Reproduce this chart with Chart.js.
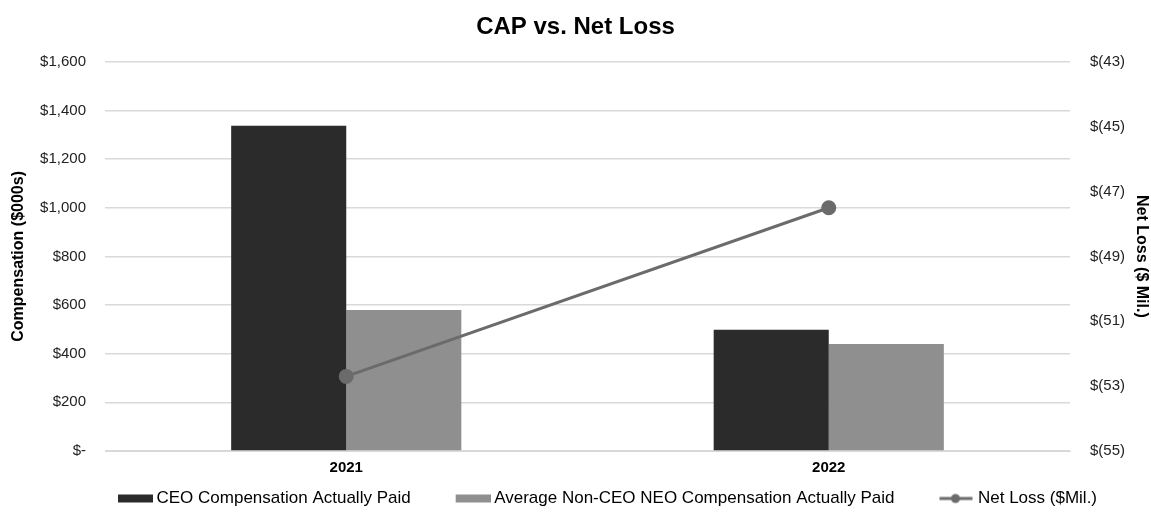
<!DOCTYPE html>
<html>
<head>
    <title>CAP vs. Net Loss</title>
    <script src="https://cdn.jsdelivr.net/npm/chart.js"></script>
    <style>
        html, body { margin: 0; padding: 0; background: white; }
        #wrap { width: 1151px; height: 513px; position: relative; }
    </style>
</head>
<body>
    <div id="wrap"><canvas id="myChart"></canvas></div>
    <script>
        // values
        const years = ['2021', '2022'];
        const ceoCap = [1337, 498];
        const avgNeoCap = [580, 440];
        const netLoss = [-52.7, -47.5];

        const leftTicks = [0, 200, 400, 600, 800, 1000, 1200, 1400, 1600];

        const dark = '#2b2b2b';
        const grey = '#8f8f8f';
        const lineGrey = '#6b6b6b';
        const fontFamily = '"Liberation Sans", Arial, sans-serif';

        // legend icons: graphic sits at the right end so the gap between items is inside the icon
        const iconSlot = 70;
        function icon(kind, color) {
            const c = document.createElement('canvas');
            c.width = iconSlot + 10; c.height = 12;
            const g = c.getContext('2d');
            const x0 = c.width - 35;
            g.fillStyle = color;
            if (kind === 'box') {
                g.fillRect(x0, 2, 35, 8);
            } else {
                g.strokeStyle = color;
                g.lineWidth = 3;
                g.beginPath(); g.moveTo(x0, 6); g.lineTo(x0 + 33, 6); g.stroke();
                g.beginPath(); g.arc(x0 + 16, 6, 4.5, 0, Math.PI * 2); g.fill();
            }
            return c;
        }
        const icons = [icon('line', lineGrey), icon('box', dark), icon('box', grey)];

        const legendShift = {
            id: 'legendShift',
            afterLayout(chart) {
                chart.legend.left += 12;
                chart.legend.right += 12;
            }
        };

        const ctx = document.getElementById('myChart').getContext('2d');
        new Chart(ctx, {
            data: {
                labels: years,
                datasets: [
                    {
                        type: 'line',
                        label: 'Net Loss ($Mil.)',
                        data: netLoss,
                        yAxisID: 'y1',
                        borderColor: lineGrey,
                        backgroundColor: lineGrey,
                        borderWidth: 3,
                        pointRadius: 6,
                        pointHoverRadius: 6,
                        tension: 0,
                        order: 0
                    },
                    {
                        type: 'bar',
                        label: 'CEO Compensation Actually Paid',
                        data: ceoCap,
                        yAxisID: 'y',
                        backgroundColor: dark,
                        categoryPercentage: 0.477,
                        barPercentage: 1,
                        order: 1
                    },
                    {
                        type: 'bar',
                        label: 'Average Non-CEO NEO Compensation Actually Paid',
                        data: avgNeoCap,
                        yAxisID: 'y',
                        backgroundColor: grey,
                        categoryPercentage: 0.477,
                        barPercentage: 1,
                        order: 1
                    }
                ]
            },
            plugins: [legendShift],
            options: {
                responsive: true,
                maintainAspectRatio: false,
                animation: false,
                layout: { padding: { left: 0, right: 0, top: 0, bottom: -4 } },
                plugins: {
                    title: {
                        display: true,
                        text: 'CAP vs. Net Loss',
                        color: '#000',
                        font: { family: fontFamily, size: 24, weight: 'bold' },
                        padding: { top: 13, bottom: 20 }
                    },
                    legend: {
                        position: 'bottom',
                        labels: {
                            usePointStyle: true,
                            pointStyleWidth: iconSlot,
                            color: '#000',
                            font: { family: fontFamily, size: 17 },
                            padding: 5,
                            sort: (a, b) => [1, 2, 0].indexOf(a.datasetIndex) - [1, 2, 0].indexOf(b.datasetIndex),
                            generateLabels: (chart) =>
                                Chart.defaults.plugins.legend.labels.generateLabels(chart).map(l => ({
                                    ...l,
                                    pointStyle: icons[l.datasetIndex]
                                }))
                        }
                    },
                    tooltip: { enabled: false }
                },
                scales: {
                    x: {
                        grid: { display: false, drawTicks: false },
                        border: { color: '#d9d9d9' },
                        ticks: {
                            color: '#000',
                            font: { family: fontFamily, size: 15, weight: 'bold' },
                            padding: 8
                        }
                    },
                    y: {
                        position: 'left',
                        min: 0,
                        max: 1600,
                        afterBuildTicks: (s) => { s.ticks = leftTicks.map(v => ({ value: v })); },
                        grid: { color: '#d9d9d9', lineWidth: 1.5, drawTicks: false },
                        border: { display: false },
                        ticks: {
                            color: '#222',
                            font: { family: fontFamily, size: 15 },
                            padding: 19,
                            callback: (v) => v === 0 ? '$-' : '$' + v.toLocaleString('en-US')
                        },
                        title: {
                            display: true,
                            text: 'Compensation ($000s)',
                            color: '#000',
                            font: { family: fontFamily, size: 16, weight: 'bold' },
                            padding: { top: 9, bottom: 0 }
                        },
                        afterFit: (s) => { s.width = 105; }
                    },
                    y1: {
                        position: 'right',
                        min: -55,
                        max: -43,
                        ticks: {
                            stepSize: 2,
                            color: '#222',
                            font: { family: fontFamily, size: 15 },
                            padding: 20,
                            callback: (v) => '$(' + (-v) + ')'
                        },
                        grid: { drawOnChartArea: false, drawTicks: false },
                        border: { display: false },
                        title: {
                            display: true,
                            text: 'Net Loss ($ Mil.)',
                            color: '#000',
                            font: { family: fontFamily, size: 16, weight: 'bold' },
                            padding: { top: 0, bottom: 0 }
                        },
                        afterFit: (s) => { s.width = 81; }
                    }
                }
            }
        });
    </script>
</body>
</html>
